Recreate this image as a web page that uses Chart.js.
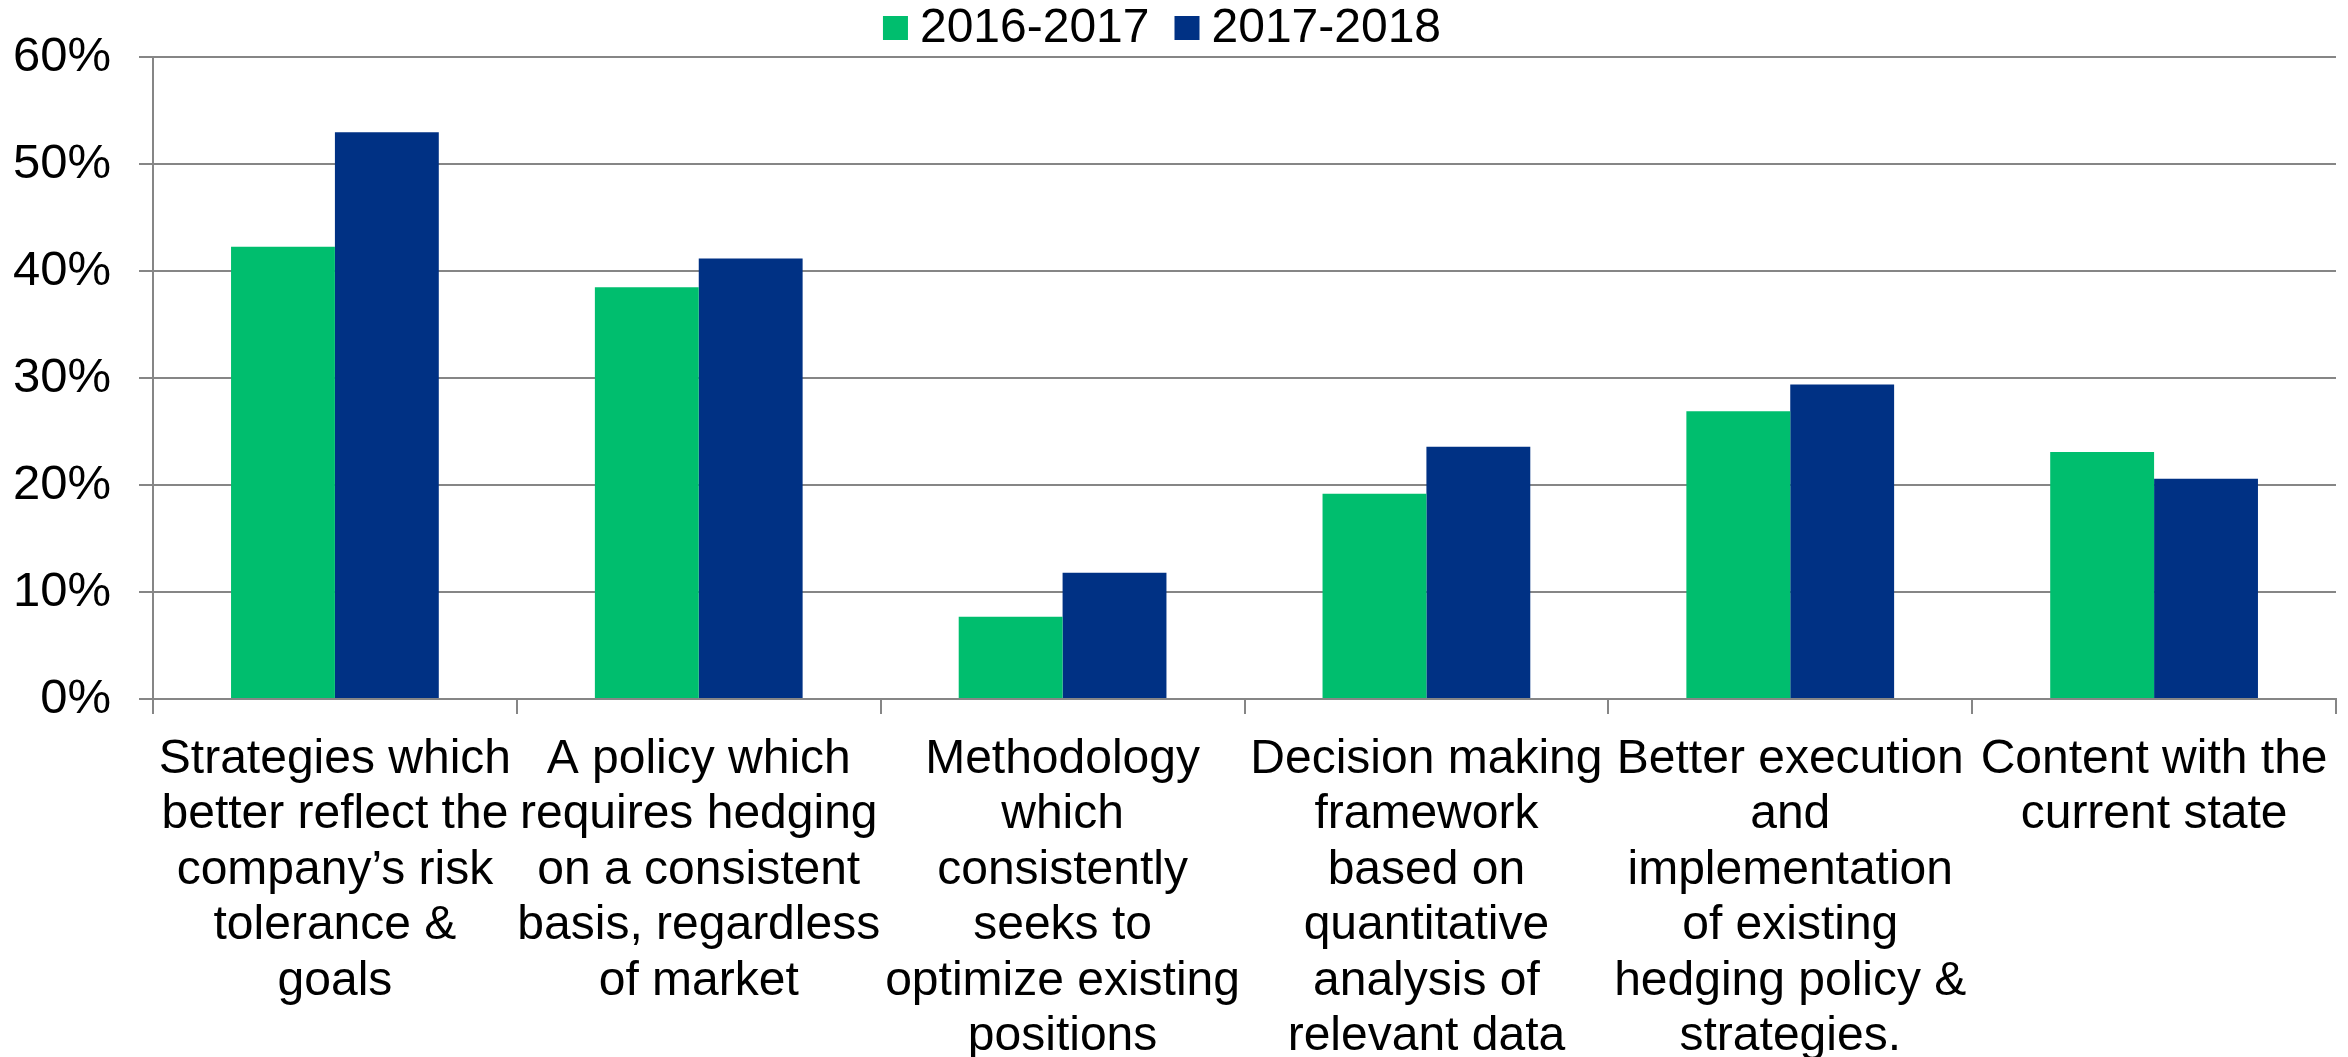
<!DOCTYPE html>
<html>
<head>
<meta charset="utf-8">
<script src="https://cdn.jsdelivr.net/npm/chart.js@4.4.1/dist/chart.umd.min.js"></script>
<style>
  html, body { margin: 0; padding: 0; background: #fff; }
  #wrap { width: 2348px; height: 1057px; position: relative; }
</style>
</head>
<body>
<div id="wrap"><canvas id="surveyChart"></canvas></div>
<script>
const categories = [
  ['Strategies which', 'better reflect the', 'company\u2019s risk', 'tolerance &', 'goals'],
  ['A policy which', 'requires hedging', 'on a consistent', 'basis, regardless', 'of market'],
  ['Methodology', 'which', 'consistently', 'seeks to', 'optimize existing', 'positions'],
  ['Decision making', 'framework', 'based on', 'quantitative', 'analysis of', 'relevant data'],
  ['Better execution', 'and', 'implementation', 'of existing', 'hedging policy &', 'strategies.'],
  ['Content with the', 'current state'],
]
const seriesNames = ['2016-2017', '2017-2018']
const values2016 = [42.3, 38.5, 7.7, 19.2, 26.9, 23.1]
const values2018 = [53.0, 41.2, 11.8, 23.6, 29.4, 20.6]
const yTicks = [0, 10, 20, 30, 40, 50, 60]

const COLORS = {
  green: '#00be6e',
  blue: '#003184',
  grid: '#868686',
}
const FONT = '"Liberation Sans", Arial, sans-serif'

// legend drawn by hand so box / text spacing matches the original
const legendPlugin = {
  id: 'simpleLegend',
  afterDraw(chart) {
    const ctx = chart.ctx
    ctx.save()
    ctx.font = '48px ' + FONT
    ctx.textBaseline = 'middle'
    const boxW = 25, boxH = 24, gap = 12, spacing = 25
    const items = chart.data.datasets.map(ds => ({
      label: ds.label,
      color: ds.backgroundColor,
      w: boxW + gap + ctx.measureText(ds.label).width,
    }))
    const total = items.reduce((s, it) => s + it.w, 0) + spacing * (items.length - 1)
    let x = chart.width / 2 - 12 - total / 2
    const cy = 28
    items.forEach(it => {
      ctx.fillStyle = it.color
      ctx.fillRect(x, cy - boxH / 2, boxW, boxH)
      ctx.fillStyle = '#000'
      ctx.fillText(it.label, x + boxW + gap, cy + 1)
      x += it.w + spacing
    })
    ctx.restore()
  },
}

const ctx = document.getElementById('surveyChart').getContext('2d')
new Chart(ctx, {
  type: 'bar',
  data: {
    labels: categories,
    datasets: [
      { label: seriesNames[0], data: values2016, backgroundColor: COLORS.green, borderWidth: 0 },
      { label: seriesNames[1], data: values2018, backgroundColor: COLORS.blue, borderWidth: 0 },
    ],
  },
  options: {
    responsive: true,
    maintainAspectRatio: false,
    animation: false,
    layout: { padding: { top: 57, right: 12, left: 0, bottom: 0 } },
    datasets: {
      bar: { categoryPercentage: 0.571, barPercentage: 1.0 },
    },
    plugins: {
      legend: { display: false },
      tooltip: { enabled: false },
    },
    scales: {
      x: {
        afterFit(scale) { scale.height = 358 },
        grid: {
          display: true,
          offset: true,
          drawOnChartArea: false,
          drawTicks: true,
          tickLength: 15,
          color: COLORS.grid,
          lineWidth: 2,
        },
        border: { display: true, color: COLORS.grid, width: 2 },
        ticks: {
          color: '#000',
          font: { family: FONT, size: 48, lineHeight: 1.156 },
          padding: 18,
          maxRotation: 0,
          autoSkip: false,
        },
      },
      y: {
        min: yTicks[0],
        max: yTicks[yTicks.length - 1],
        afterFit(scale) { scale.width = 153 },
        afterBuildTicks(scale) { scale.ticks = yTicks.map(v => ({ value: v })) },
        grid: {
          color: COLORS.grid,
          lineWidth: 2,
          tickLength: 14,
        },
        border: { display: true, color: COLORS.grid, width: 2 },
        ticks: {
          color: '#000',
          font: { family: FONT, size: 49 },
          padding: 28,
          callback: v => v + '%',
        },
      },
    },
  },
  plugins: [legendPlugin],
})
</script>
</body>
</html>
